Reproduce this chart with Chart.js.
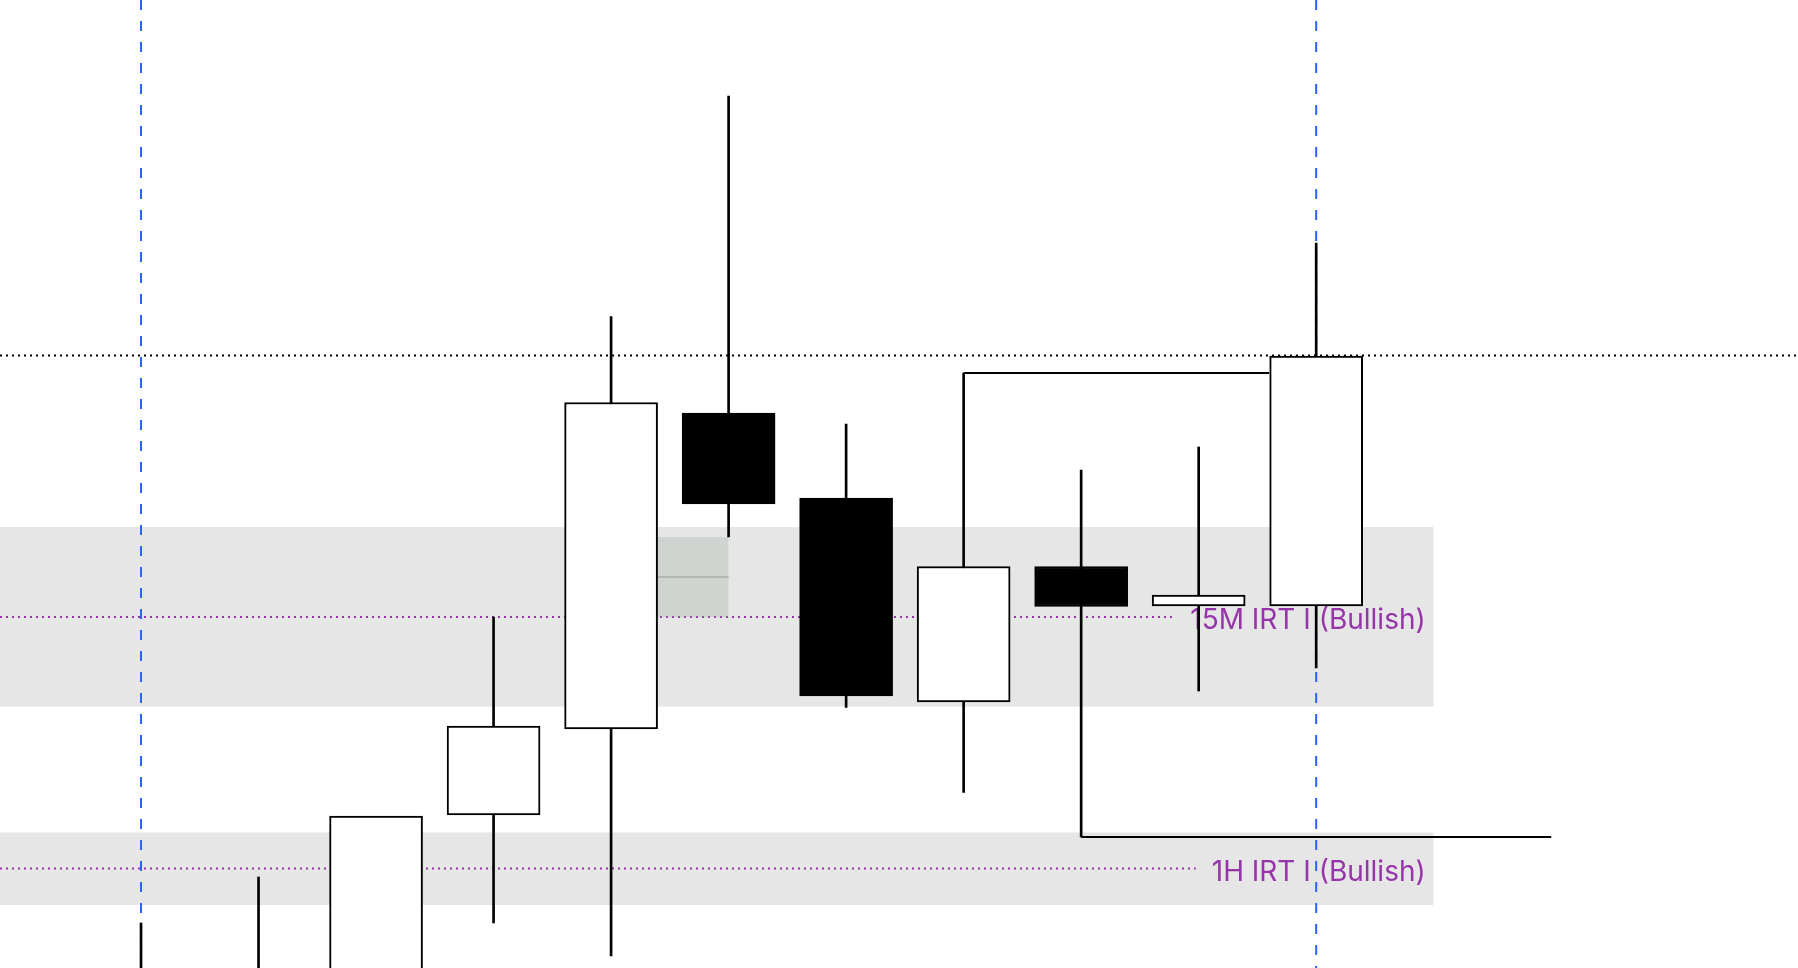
<!DOCTYPE html>
<html>
<head>
<meta charset="utf-8">
<title>IRT candles</title>
<script src="https://cdn.jsdelivr.net/npm/chart.js@4.4.1/dist/chart.umd.min.js"></script>
<style>
    html, body { margin: 0; padding: 0; background: #ffffff; overflow: hidden; }
    #wrap { width: 1798px; height: 968px; position: relative; }
</style>
</head>
<body>
<div id="wrap"><canvas id="candleChart"></canvas></div>
<script>
// candle data (bar index, price units)
const candleIndex = [0, 1, 2, 3, 4, 5, 6, 7, 8, 9, 10];
const opens  = [-40, -30, -10, 153, 239, 555, 470, 266, 401.5, 362, 362];
const highs  = [45, 91, 150, 351, 651.5, 872, 544, 595, 498, 521, 725];
const lows   = [-60, -50, -30, 45, 12, 431, 260.5, 175.5, 131, 277, 300];
const closes = [-15, -5, 152, 242, 565.5, 464, 272, 401.5, 361.5, 373, 612];

// IRT zones and their mid levels
const zoneLabels  = ['15M IRT I (Bullish)', '1H IRT I (Bullish)'];
const zoneTops    = [441, 135.5];
const zoneBottoms = [261.5, 63];
const zoneLevels  = [351, 99.5];
const zoneEnd = 11;

// other levels
const keyLevel = 612.5;
const fvgFrom = 4.39, fvgTo = 5;
const fvgTop = 431, fvgBottom = 351, fvgMid = 391;
const sessionMarks = [0, 10];
const sweepFrom  = [7, 8];
const sweepTo    = [9.6, 12];
const sweepLevel = [595, 131];

const xMin = -1.2, xMax = 14.1;
const yMin = 0, yMax = 968;

document.addEventListener('DOMContentLoaded', function() {
    const purple = '#9634aa';

    // purple dotted mid line + label, drawn right after its zone
    const zoneLabelPlugin = {
        id: 'zoneLabels',
        afterDatasetDraw(chart, args) {
            const ds = chart.data.datasets[args.index];
            if (ds.zoneNo === undefined) return;
            const i = ds.zoneNo;
            const ctx = chart.ctx;
            const x = chart.scales.x, y = chart.scales.y;
            const area = chart.chartArea;
            const yPx = y.getPixelForValue(zoneLevels[i]);
            const right = x.getPixelForValue(zoneEnd) - 8;
            ctx.save();
            ctx.beginPath();
            ctx.rect(area.left, area.top, area.right - area.left, area.bottom - area.top);
            ctx.clip();
            ctx.font = '28px Inter, "Noto Sans", sans-serif';
            const w = ctx.measureText(zoneLabels[i]).width;
            ctx.strokeStyle = purple;
            ctx.lineWidth = 2;
            ctx.setLineDash([2, 4]);
            ctx.beginPath();
            ctx.moveTo(area.left, yPx);
            ctx.lineTo(right - w - 16, yPx);
            ctx.stroke();
            ctx.setLineDash([]);
            ctx.fillStyle = purple;
            ctx.textAlign = 'right';
            ctx.textBaseline = 'alphabetic';
            ctx.fillText(zoneLabels[i], right, yPx + 12);
            ctx.restore();
        }
    };

    const datasets = [];

    // candle bodies (top-most)
    datasets.push({
        type: 'bar',
        label: 'body',
        order: 1,
        grouped: false,
        data: candleIndex.map((i, k) => ({ x: i, y: [opens[k], closes[k]] })),
        backgroundColor: candleIndex.map((i, k) => closes[k] >= opens[k] ? '#ffffff' : '#000000'),
        borderColor: '#000000',
        borderWidth: 2,
        borderSkipped: false,
        barThickness: 93
    });

    // wicks
    datasets.push({
        type: 'bar',
        label: 'wick',
        order: 2,
        grouped: false,
        data: candleIndex.map((i, k) => ({ x: i, y: [lows[k], highs[k]] })),
        backgroundColor: '#000000',
        borderWidth: 0,
        barThickness: 2
    });

    // sweep lines
    sweepFrom.forEach((from, k) => {
        datasets.push({
            type: 'line',
            label: 'sweep' + k,
            order: 4,
            data: [{ x: from, y: sweepLevel[k] }, { x: sweepTo[k], y: sweepLevel[k] }],
            borderColor: '#000000',
            borderWidth: 2,
            pointRadius: 0,
            fill: false
        });
    });

    // session separators
    sessionMarks.forEach((m, k) => {
        datasets.push({
            type: 'line',
            label: 'session' + k,
            order: 5,
            data: [{ x: m, y: yMin - 50 }, { x: m, y: yMax + 50 }],
            borderColor: '#2962ff',
            borderWidth: 2,
            borderDash: [10, 11],
            pointRadius: 0,
            fill: false
        });
    });

    // FVG box and its mid line
    datasets.push({
        type: 'line',
        label: 'fvgMid',
        order: 6,
        data: [{ x: fvgFrom, y: fvgMid }, { x: fvgTo, y: fvgMid }],
        borderColor: '#939993',
        borderWidth: 1,
        pointRadius: 0,
        fill: false
    });
    datasets.push({
        type: 'line',
        label: 'fvg',
        order: 7,
        data: [{ x: fvgFrom, y: fvgTop }, { x: fvgTo, y: fvgTop }],
        borderWidth: 0,
        pointRadius: 0,
        backgroundColor: 'rgba(157, 173, 160, 0.3)',
        fill: { value: fvgBottom }
    });

    // key level (dotted black)
    datasets.push({
        type: 'line',
        label: 'key',
        order: 8,
        data: [{ x: xMin, y: keyLevel }, { x: xMax, y: keyLevel }],
        borderColor: '#000000',
        borderWidth: 2,
        borderDash: [2, 4],
        pointRadius: 0,
        fill: false
    });

    // IRT zones
    zoneTops.forEach((top, k) => {
        datasets.push({
            type: 'line',
            label: 'zone' + k,
            zoneNo: k,
            order: 9,
            data: [{ x: xMin, y: top }, { x: zoneEnd, y: top }],
            borderWidth: 0,
            pointRadius: 0,
            backgroundColor: '#e6e6e6',
            fill: { value: zoneBottoms[k] }
        });
    });

    const ctx = document.getElementById('candleChart').getContext('2d');
    new Chart(ctx, {
        type: 'bar',
        data: { datasets: datasets },
        options: {
            animation: false,
            responsive: true,
            maintainAspectRatio: false,
            layout: { padding: 0 },
            plugins: {
                legend: { display: false },
                tooltip: { enabled: false }
            },
            scales: {
                x: {
                    type: 'linear',
                    min: xMin,
                    max: xMax,
                    offset: false,
                    display: false
                },
                y: {
                    type: 'linear',
                    min: yMin,
                    max: yMax,
                    display: false
                }
            }
        },
        plugins: [zoneLabelPlugin]
    });
});
</script>
</body>
</html>
